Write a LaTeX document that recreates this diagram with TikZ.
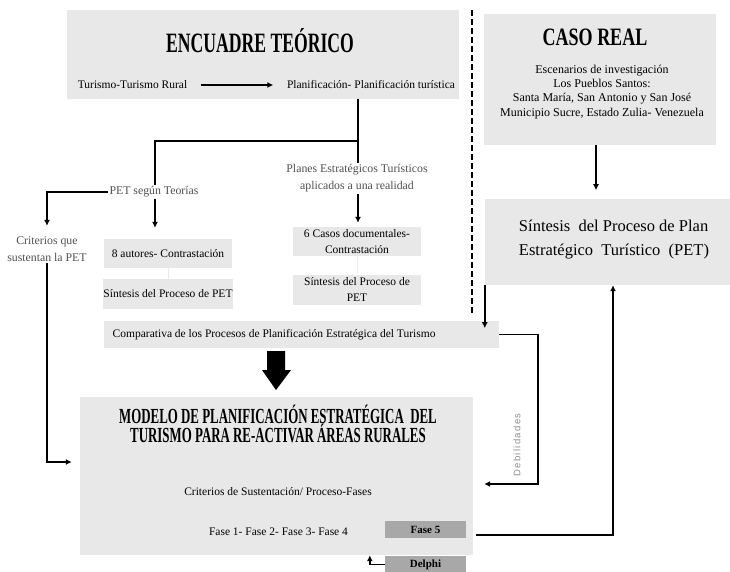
\documentclass[tikz,border=0pt]{standalone}
\usepackage{fontspec}
\usepackage{graphicx}
\setmainfont{Liberation Serif}
\newfontfamily\debfont[LetterSpace=14]{Liberation Sans}
\usetikzlibrary{arrows.meta}
\definecolor{boxgray}{HTML}{E8E8E8}
\definecolor{darkbox}{HTML}{A8A8A8}
\definecolor{softtext}{HTML}{505050}
\newcommand\squeeze[2]{\scalebox{#1}[1]{#2}}

\begin{document}
\begin{tikzpicture}[x=1pt,y=-1pt,
  panel/.style={fill=boxgray, inner sep=0pt},
  phase/.style={fill=darkbox, inner sep=0pt, minimum width=81pt, minimum height=17pt,
    font=\fontsize{11}{12}\selectfont\bfseries},
  cell/.style={fill=boxgray, inner sep=0pt, minimum width=128pt, align=center,
    font=\fontsize{11.5}{15.5}\selectfont},
  lbl/.style={inner sep=1.5pt, font=\fontsize{11.5}{13}\selectfont},
  soft/.style={inner sep=1.5pt, text=softtext, align=center, font=\fontsize{11.8}{17}\selectfont},
  headline/.style={inner sep=0pt, font=\bfseries},
  link/.style={line width=1.5pt},
  arr/.style={line width=1.5pt, -{Latex[length=6pt,width=6pt]}},
  faint/.style={line width=0.6pt, draw=black!8}]

\useasboundingbox (0,0) rectangle (730,571);

% ---- theoretical frame -------------------------------------------------
\node[panel, minimum width=392pt, minimum height=89pt] (enc) at (263,54.5) {};
\node[headline] (enct) at (260,41) {\fontsize{28}{32}\selectfont\squeeze{0.63}{ENCUADRE TEÓRICO}};
\node[lbl] (tur) at (132.5,85) {Turismo-Turismo Rural};
\node[lbl] (plan) at (371,85) {Planificación- Planificación turística};
\draw[arr, shorten <=12pt, shorten >=12pt] (tur) -- (plan);

% ---- real case -----------------------------------------------------------
\node[panel, minimum width=232pt, minimum height=131pt] (caso) at (600,79.5) {};
\node[headline] (casot) at (595,37) {\fontsize{25}{29}\selectfont\squeeze{0.72}{CASO REAL}};
\node[inner sep=0pt, align=center, font=\fontsize{12}{14.2}\selectfont] (esc) at (602,92)
  {Escenarios de investigación\\Los Pueblos Santos:\\Santa María, San Antonio y San José\\Municipio Sucre, Estado Zulia- Venezuela};

\node[panel, minimum width=245pt, minimum height=86pt] (sint) at (607.5,242) {};
\node[inner sep=0pt, align=left, font=\fontsize{16.5}{24}\selectfont] (sintt) at (614,240)
  {Síntesis\ \ del Proceso de Plan\\Estratégico\ \ Turístico\ \ (PET)};

% ---- theory boxes --------------------------------------------------------
\node[cell, minimum height=29pt] (aut) at (168,253.5) {8 autores- Contrastación};
\node[cell, minimum height=30pt] (sinL) at (168,294) {Síntesis del Proceso de PET};
\node[cell, minimum height=29pt] (casos) at (357,241.5) {6 Casos documentales-\\Contrastación};
\node[cell, minimum height=30pt] (sinR) at (357,289.5) {Síntesis del Proceso de\\PET};
\draw[faint] (aut.south) -- (sinL.north);
\draw[faint] (casos.south) -- (sinR.north);

\node[panel, minimum width=395pt, minimum height=27pt] (comp) at (301.5,334.5) {};
\node[lbl, anchor=west] (compt) at (111,335)
  {Comparativa de los Procesos de Planificación Estratégica del Turismo};

% ---- model ---------------------------------------------------------------
\node[panel, minimum width=393pt, minimum height=158pt] (mod) at (276.5,476) {};
\node[headline, align=center] (modt) at (278,424)
  {\fontsize{21.5}{26}\selectfont\squeeze{0.6}{MODELO DE PLANIFICACIÓN ESTRATÉGICA\ \ DEL}\\
   \fontsize{21.5}{26}\selectfont\squeeze{0.6}{TURISMO PARA RE-ACTIVAR ÁREAS RURALES}};
\node[lbl] (crit2) at (278,492) {Criterios de Sustentación/ Proceso-Fases};
\node[lbl] (fases) at (278.5,532) {Fase 1- Fase 2- Fase 3- Fase 4};
\node[phase] (f5) at (425.5,529.5) {Fase 5};
\node[phase] (del) at (425.5,564.5) {Delphi};

% ---- connectors ----------------------------------------------------------
\coordinate (j) at (358,141);
\draw[link] (enc.south -| j) -- (j);
\draw[arr] (j) -| ([shift={(-13,-11)}]aut.north);
\draw[arr] (j) -- ([shift={(1,-4)}]casos.north);

\node[soft, fill=white] (pet) at (154,192) {PET según Teorías};
\node[soft, fill=white] (planes) at (357,178.5) {Planes Estratégicos Turísticos\\aplicados a una realidad};
\node[soft] (crit) at (47,249) {Criterios que\\sustentan la PET};

\draw[arr] (pet.west) -| ([shift={(0,-9)}]crit.north);
\draw[arr] (crit.south) |- ([shift={(-8,-14)}]mod.west);

\draw[arr] ([xshift=-4pt]caso.south) -- ++(0,45);
\draw[arr] (sint.south west) -- ++(0,43);
\draw[arr] (comp.east) -- ++(39,0) |- ([xshift=11pt]mod.east |- 0,484);
\draw[arr] ([shift={(10,5.5)}]f5.east) -| ([xshift=5.5pt]sint.south);
\draw[arr] (del.west) -| ([xshift=-15pt]del.west |- mod.south);

\node[inner sep=0pt, rotate=90, text=black!45, font=\debfont\fontsize{9.5}{11}\selectfont] (deb) at (517,445) {Debilidades};

% big arrow from the comparison to the model
\fill[black] (267,351) -- (285,351) -- (285,370) -- (291,370) -- (276,390) -- (262,370) -- (267,370) -- cycle;

% dashed divider
\draw[line width=1.5pt, dash pattern=on 6pt off 3pt] (472,10) -- (472,315);

\end{tikzpicture}
\end{document}
